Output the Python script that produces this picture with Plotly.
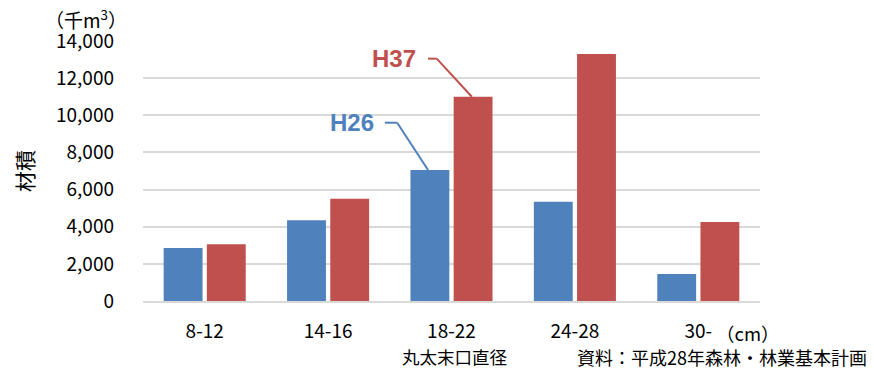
import plotly.graph_objects as go

# 丸太末口直径 classes and volumes (千m3)
categories = ["8-12", "14-16", "18-22", "24-28", "30-"]
h26_values = [2850, 4350, 7050, 5350, 1450]
h37_values = [3050, 5500, 11000, 13300, 4250]
y_ticks = [0, 2000, 4000, 6000, 8000, 10000, 12000, 14000]

BLUE = "#4F81BD"
RED = "#C0504D"
GRID = "#D9D9D9"
JP_FONT = "Noto Sans CJK JP"
NUM_FONT = "Noto Sans CJK JP"

fig = go.Figure()
fig.add_trace(go.Bar(x=categories, y=h26_values, name="H26",
                     marker=dict(color=BLUE, line=dict(width=0))))
fig.add_trace(go.Bar(x=categories, y=h37_values, name="H37",
                     marker=dict(color=RED, line=dict(width=0))))

BARGAP = 0.3
slot = (1 - BARGAP) / 2
hi = categories.index("18-22")
blue_center = hi - slot / 2
red_center = hi + slot / 2

# leader lines from the series labels to the 18-22 bars
shapes = []
def leader(color, x_start, x_elbow, y_elbow, x_end, y_end):
    shapes.append(dict(type="line", xref="x", yref="y", x0=x_start, y0=y_elbow,
                       x1=x_elbow, y1=y_elbow, line=dict(color=color, width=2)))
    shapes.append(dict(type="line", xref="x", yref="y", x0=x_elbow, y0=y_elbow,
                       x1=x_end, y1=y_end, line=dict(color=color, width=2)))

leader(BLUE, hi - 0.54, hi - 0.44, 9600, blue_center - 0.015, h26_values[hi])
leader(RED, hi - 0.19, hi - 0.12, 13050, red_center - 0.01, h37_values[hi])

annotations = [
    dict(text="<b>H26</b>", xref="x", yref="y", x=hi - 0.61, y=9600,
         xanchor="right", yanchor="middle", showarrow=False,
         font=dict(family="Liberation Sans", size=24, color=BLUE)),
    dict(text="<b>H37</b>", xref="x", yref="y", x=hi - 0.27, y=13050,
         xanchor="right", yanchor="middle", showarrow=False,
         font=dict(family="Liberation Sans", size=24, color=RED)),
    dict(text="（千m<sup>3</sup>）", xref="paper", yref="paper", x=-0.092, y=1.085,
         xanchor="center", yanchor="middle", showarrow=False,
         font=dict(family=JP_FONT, size=19, color="#000000")),
    dict(text="（cm）", xref="paper", yref="paper", x=0.925, y=-0.122,
         xanchor="left", yanchor="middle", showarrow=False,
         font=dict(family=JP_FONT, size=18.5, color="#000000")),
    dict(text="丸太末口直径", xref="x", yref="paper", x=hi + 0.03, y=-0.215,
         xanchor="center", yanchor="middle", showarrow=False,
         font=dict(family=JP_FONT, size=17.5, color="#000000")),
    dict(text="資料：平成28年森林・林業基本計画", xref="paper", yref="paper", x=1.176, y=-0.215,
         xanchor="right", yanchor="middle", showarrow=False,
         font=dict(family=JP_FONT, size=18, color="#000000")),
]

fig.update_layout(
    width=874, height=371,
    margin=dict(l=143, r=114, t=41, b=70),
    paper_bgcolor="white", plot_bgcolor="white",
    barmode="group", bargap=BARGAP, bargroupgap=0.1,
    showlegend=False,
    shapes=shapes, annotations=annotations,
    xaxis=dict(type="category", showgrid=False, showline=True, linecolor=GRID,
               linewidth=2, ticks="", ticklabelstandoff=12,
               tickfont=dict(family=NUM_FONT, size=19, color="#000000")),
    yaxis=dict(range=[0, 14000], tickvals=y_ticks, tickformat=",d",
               showgrid=True, gridcolor=GRID, gridwidth=2, zeroline=False,
               showline=False, ticks="", ticklabelstandoff=28,
               tickfont=dict(family=NUM_FONT, size=19, color="#000000"),
               title=dict(text="材積", standoff=16,
                          font=dict(family=JP_FONT, size=21, color="#000000"))),
)

fig.write_html("out.html")
